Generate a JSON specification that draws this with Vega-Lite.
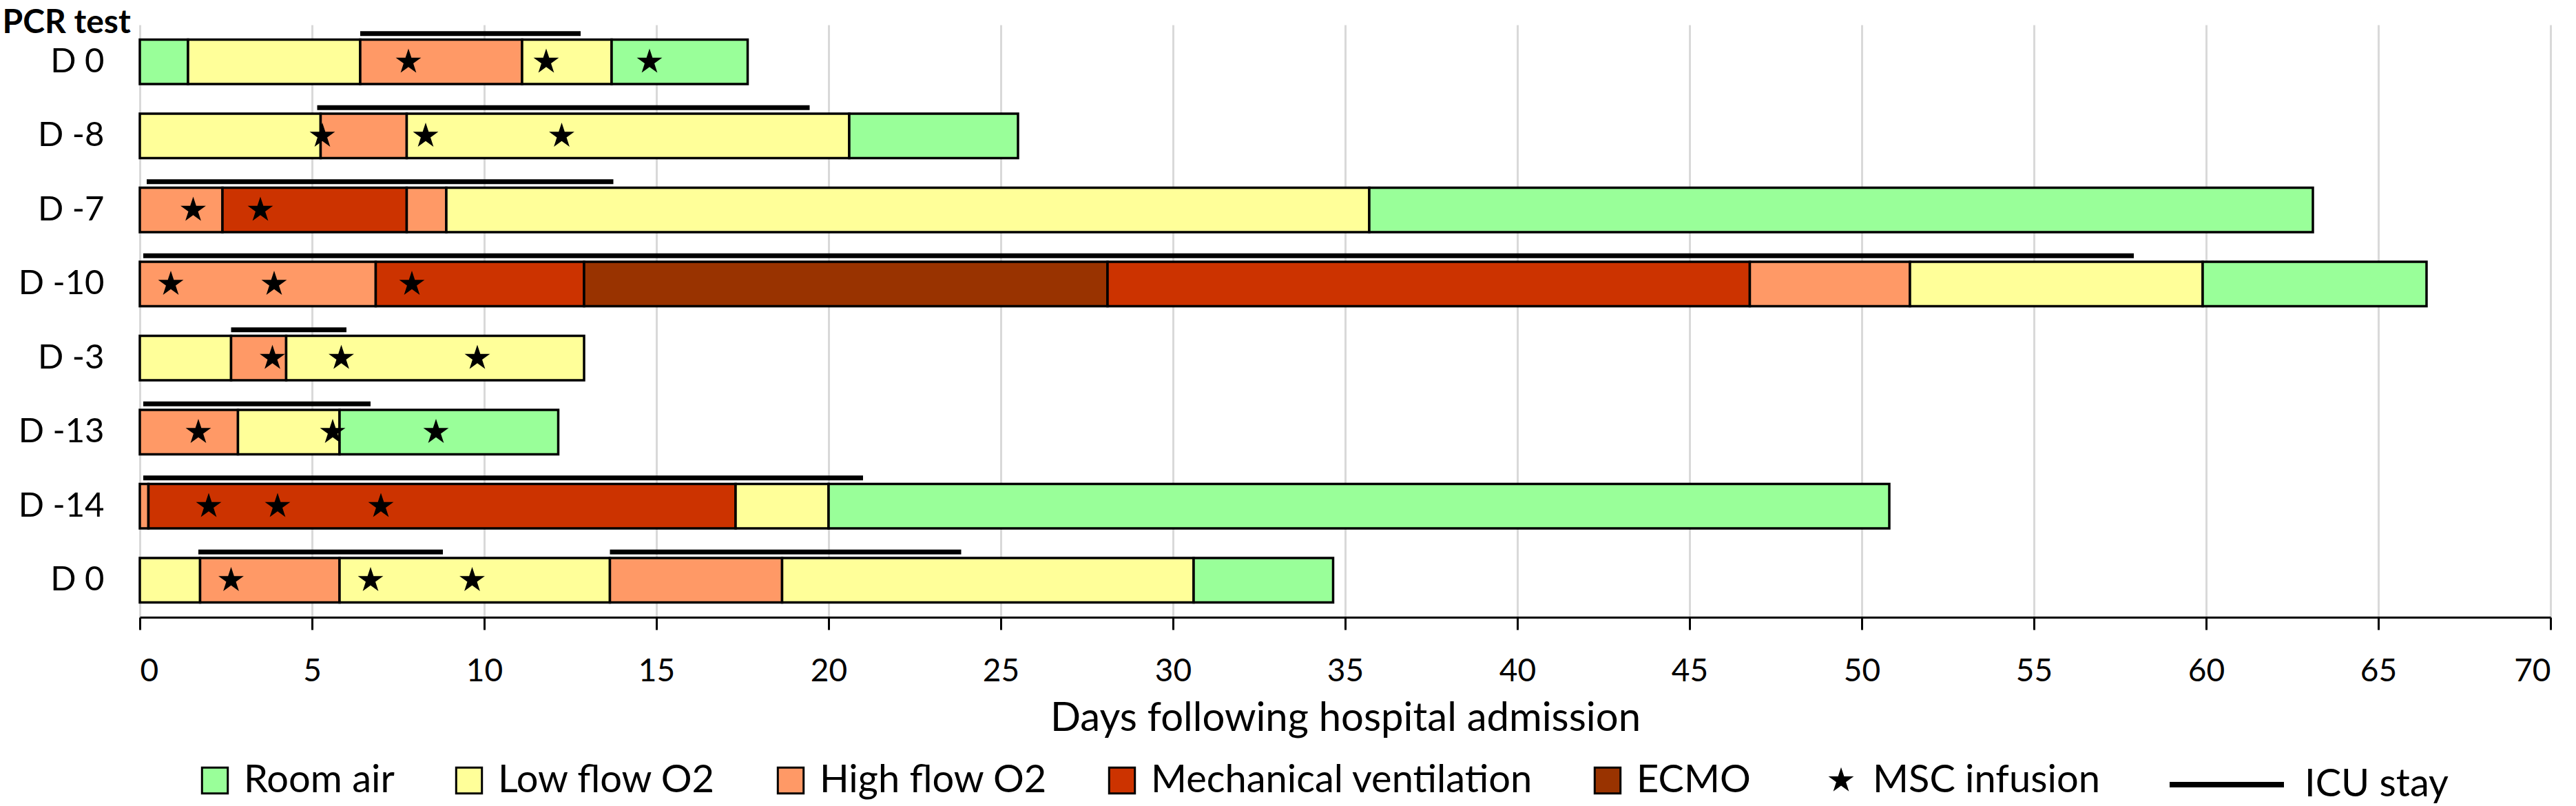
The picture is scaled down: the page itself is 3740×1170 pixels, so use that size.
{
  "$schema": "https://vega.github.io/schema/vega-lite/v6.json",
  "width": 3500,
  "height": 860,
  "autosize": {"type": "none"},
  "padding": {"left": 203, "top": 36, "right": 37, "bottom": 274},
  "background": "white",
  "config": {"font": "Lato", "view": {"stroke": null}},
  "datasets": {
    "segments": [
      {"row": 1, "status": "Room air", "start": 0, "end": 1.4},
      {"row": 1, "status": "Low flow O2", "start": 1.4, "end": 6.4},
      {"row": 1, "status": "High flow O2", "start": 6.4, "end": 11.1},
      {"row": 1, "status": "Low flow O2", "start": 11.1, "end": 13.7},
      {"row": 1, "status": "Room air", "start": 13.7, "end": 17.65},
      {"row": 2, "status": "Low flow O2", "start": 0, "end": 5.25},
      {"row": 2, "status": "High flow O2", "start": 5.25, "end": 7.75},
      {"row": 2, "status": "Low flow O2", "start": 7.75, "end": 20.6},
      {"row": 2, "status": "Room air", "start": 20.6, "end": 25.5},
      {"row": 3, "status": "High flow O2", "start": 0, "end": 2.4},
      {"row": 3, "status": "Mechanical ventilation", "start": 2.4, "end": 7.75},
      {"row": 3, "status": "High flow O2", "start": 7.75, "end": 8.9},
      {"row": 3, "status": "Low flow O2", "start": 8.9, "end": 35.7},
      {"row": 3, "status": "Room air", "start": 35.7, "end": 63.1},
      {"row": 4, "status": "High flow O2", "start": 0, "end": 6.85},
      {"row": 4, "status": "Mechanical ventilation", "start": 6.85, "end": 12.9},
      {"row": 4, "status": "ECMO", "start": 12.9, "end": 28.1},
      {"row": 4, "status": "Mechanical ventilation", "start": 28.1, "end": 46.75},
      {"row": 4, "status": "High flow O2", "start": 46.75, "end": 51.4},
      {"row": 4, "status": "Low flow O2", "start": 51.4, "end": 59.9},
      {"row": 4, "status": "Room air", "start": 59.9, "end": 66.4},
      {"row": 5, "status": "Low flow O2", "start": 0, "end": 2.65},
      {"row": 5, "status": "High flow O2", "start": 2.65, "end": 4.25},
      {"row": 5, "status": "Low flow O2", "start": 4.25, "end": 12.9},
      {"row": 6, "status": "High flow O2", "start": 0, "end": 2.85},
      {"row": 6, "status": "Low flow O2", "start": 2.85, "end": 5.8},
      {"row": 6, "status": "Room air", "start": 5.8, "end": 12.15},
      {"row": 7, "status": "High flow O2", "start": 0, "end": 0.25},
      {"row": 7, "status": "Mechanical ventilation", "start": 0.25, "end": 17.3},
      {"row": 7, "status": "Low flow O2", "start": 17.3, "end": 20.0},
      {"row": 7, "status": "Room air", "start": 20.0, "end": 50.8},
      {"row": 8, "status": "Low flow O2", "start": 0, "end": 1.75},
      {"row": 8, "status": "High flow O2", "start": 1.75, "end": 5.8},
      {"row": 8, "status": "Low flow O2", "start": 5.8, "end": 13.65},
      {"row": 8, "status": "High flow O2", "start": 13.65, "end": 18.65},
      {"row": 8, "status": "Low flow O2", "start": 18.65, "end": 30.6},
      {"row": 8, "status": "Room air", "start": 30.6, "end": 34.65}
    ],
    "icu": [
      {"row": 1, "start": 6.4, "end": 12.8},
      {"row": 2, "start": 5.15, "end": 19.45},
      {"row": 3, "start": 0.2, "end": 13.75},
      {"row": 4, "start": 0.1, "end": 57.9},
      {"row": 5, "start": 2.65, "end": 6.0},
      {"row": 6, "start": 0.1, "end": 6.7},
      {"row": 7, "start": 0.1, "end": 21.0},
      {"row": 8, "start": 1.7, "end": 8.8},
      {"row": 8, "start": 13.65, "end": 23.85}
    ],
    "stars": [
      {"row": 1, "day": 7.8}, {"row": 1, "day": 11.8}, {"row": 1, "day": 14.8},
      {"row": 2, "day": 5.3}, {"row": 2, "day": 8.3}, {"row": 2, "day": 12.25},
      {"row": 3, "day": 1.55}, {"row": 3, "day": 3.5},
      {"row": 4, "day": 0.9}, {"row": 4, "day": 3.9}, {"row": 4, "day": 7.9},
      {"row": 5, "day": 3.85}, {"row": 5, "day": 5.85}, {"row": 5, "day": 9.8},
      {"row": 6, "day": 1.7}, {"row": 6, "day": 5.6}, {"row": 6, "day": 8.6},
      {"row": 7, "day": 2.0}, {"row": 7, "day": 4.0}, {"row": 7, "day": 7.0},
      {"row": 8, "day": 2.65}, {"row": 8, "day": 6.7}, {"row": 8, "day": 9.65}
    ]
  },
  "layer": [
    {
      "data": {"name": "segments"},
      "mark": {"type": "bar", "stroke": "black", "strokeWidth": 3.5},
      "encoding": {
        "y": {
          "field": "row",
          "type": "ordinal",
          "scale": {"paddingInner": 0.4, "paddingOuter": 0.2},
          "axis": {
            "title": "PCR test",
            "titleAngle": 0,
            "titleAlign": "left",
            "titleBaseline": "alphabetic",
            "titleX": -200,
            "titleY": 11,
            "titleFontSize": 48,
            "titleFontWeight": "bold",
            "titleColor": "black",
            "domain": false,
            "ticks": false,
            "labelFontSize": 49,
            "labelColor": "black",
            "labelPadding": 52,
            "labelExpr": "['', 'D 0', 'D -8', 'D -7', 'D -10', 'D -3', 'D -13', 'D -14', 'D 0'][datum.value]"
          }
        },
        "x": {
          "field": "start",
          "type": "quantitative",
          "scale": {"domain": [0, 70], "nice": false},
          "axis": {
            "title": "Days following hospital admission",
            "titleFontSize": 58,
            "titleFontWeight": "normal",
            "titleColor": "black",
            "titleBaseline": "alphabetic",
            "titleY": 164,
            "values": [0, 5, 10, 15, 20, 25, 30, 35, 40, 45, 50, 55, 60, 65, 70],
            "labelFontSize": 46,
            "labelColor": "black",
            "labelPadding": 38,
            "domainColor": "black",
            "domainWidth": 3,
            "tickColor": "black",
            "tickWidth": 3,
            "tickSize": 18,
            "gridColor": "#D9D9D9",
            "gridWidth": 3
          }
        },
        "x2": {"field": "end"},
        "color": {
          "field": "status",
          "type": "nominal",
          "scale": {
            "domain": ["Room air", "Low flow O2", "High flow O2", "Mechanical ventilation", "ECMO"],
            "range": ["#99FF99", "#FFFF99", "#FF9966", "#CC3300", "#993300"]
          },
          "legend": {
            "title": null,
            "orient": "none",
            "legendX": 81,
            "legendY": 1069,
            "direction": "horizontal",
            "columns": 5,
            "padding": 0,
            "symbolType": "square",
            "symbolSize": 1400,
            "symbolStrokeColor": "black",
            "symbolStrokeWidth": 3,
            "labelFontSize": 56,
            "labelColor": "black",
            "labelLimit": 1000,
            "labelOffset": 14,
            "columnPadding": 80
          }
        }
      }
    },
    {
      "data": {"name": "icu"},
      "mark": {"type": "rule", "color": "black", "strokeWidth": 7, "yOffset": -41},
      "encoding": {
        "x": {"field": "start", "type": "quantitative"},
        "x2": {"field": "end"},
        "y": {"field": "row", "type": "ordinal"},
        "strokeDash": {
          "datum": "ICU stay",
          "scale": {"range": [[1, 0]]},
          "legend": {
            "title": null,
            "orient": "none",
            "legendX": 2943,
            "legendY": 1016,
            "padding": 0,
            "symbolType": "stroke",
            "symbolSize": 27556,
            "symbolStrokeColor": "black",
            "symbolStrokeWidth": 8,
            "labelFontSize": 56,
            "labelColor": "black",
            "labelLimit": 1000,
            "labelOffset": 26
          }
        }
      }
    },
    {
      "data": {"name": "stars"},
      "mark": {"type": "point", "filled": true, "size": 1500, "color": "black", "opacity": 1},
      "encoding": {
        "x": {"field": "day", "type": "quantitative"},
        "y": {"field": "row", "type": "ordinal"},
        "shape": {
          "datum": "MSC infusion",
          "scale": {"range": ["M0,-1L0.2245,-0.309L0.951,-0.309L0.363,0.118L0.588,0.809L0,0.382L-0.588,0.809L-0.363,0.118L-0.951,-0.309L-0.2245,-0.309Z"]},
          "legend": {
            "title": null,
            "orient": "none",
            "legendX": 2442,
            "legendY": 1069,
            "padding": 0,
            "symbolSize": 1500,
            "symbolFillColor": "black",
            "symbolStrokeWidth": 0,
            "labelFontSize": 56,
            "labelColor": "black",
            "labelLimit": 1000,
            "labelOffset": 18
          }
        }
      }
    }
  ]
}
